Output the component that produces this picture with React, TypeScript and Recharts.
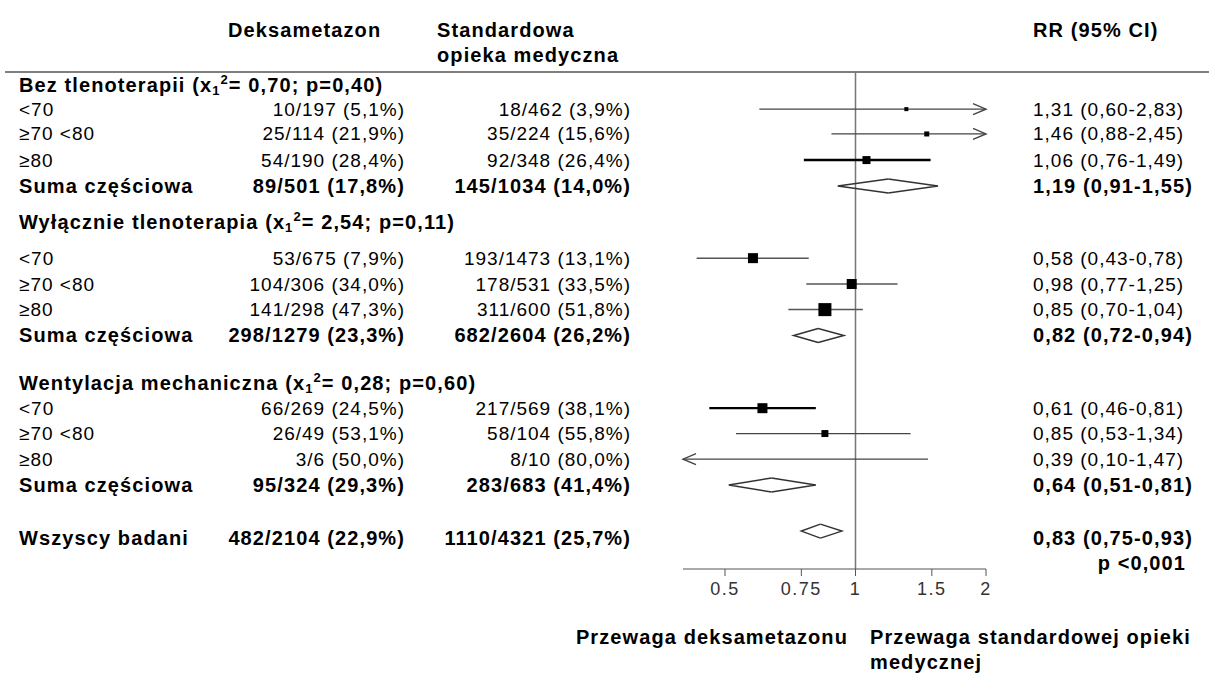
import React from 'react';
import { ComposedChart, XAxis, YAxis, Scatter, ReferenceLine, Customized } from 'recharts';

const FONT = '"Liberation Sans", Arial, Helvetica, sans-serif';

// ---------- data ----------
const rowKind = ['group', 'study', 'study', 'study', 'sub', 'group', 'study', 'study', 'study', 'sub', 'group', 'study', 'study', 'study', 'sub', 'total', 'note'];
const rowLabel = ['Bez tlenoterapii', '<70', '≥70 <80', '≥80', 'Suma częściowa', 'Wyłącznie tlenoterapia', '<70', '≥70 <80', '≥80', 'Suma częściowa', 'Wentylacja mechaniczna', '<70', '≥70 <80', '≥80', 'Suma częściowa', 'Wszyscy badani', 'p <0,001'];
// row positions (row units from top of the plot)
const rowPos = [0.51, 1.45, 2.42, 3.44, 4.45, 5.86, 7.27, 8.28, 9.28, 10.29, 12.15, 13.13, 14.12, 15.12, 16.13, 18.2, 19.18];
const markPos = [null, 1.45, 2.42, 3.44, 4.45, null, 7.27, 8.28, 9.28, 10.29, null, 13.13, 14.12, 15.12, 16.13, 17.93, null];
const chiSq = ['0,70', null, null, null, null, '2,54', null, null, null, null, '0,28', null, null, null, null, null, null];
const chiP = ['0,40', null, null, null, null, '0,11', null, null, null, null, '0,60', null, null, null, null, null, null];
const deksText = ['', '10/197 (5,1%)', '25/114 (21,9%)', '54/190 (28,4%)', '89/501 (17,8%)', '', '53/675 (7,9%)', '104/306 (34,0%)', '141/298 (47,3%)', '298/1279 (23,3%)', '', '66/269 (24,5%)', '26/49 (53,1%)', '3/6 (50,0%)', '95/324 (29,3%)', '482/2104 (22,9%)', ''];
const stdText = ['', '18/462 (3,9%)', '35/224 (15,6%)', '92/348 (26,4%)', '145/1034 (14,0%)', '', '193/1473 (13,1%)', '178/531 (33,5%)', '311/600 (51,8%)', '682/2604 (26,2%)', '', '217/569 (38,1%)', '58/104 (55,8%)', '8/10 (80,0%)', '283/683 (41,4%)', '1110/4321 (25,7%)', ''];
const rrVal = [null, 1.31, 1.46, 1.06, 1.19, null, 0.58, 0.98, 0.85, 0.82, null, 0.61, 0.85, 0.39, 0.64, 0.83, null];
const ciLow = [null, 0.60, 0.88, 0.76, 0.91, null, 0.43, 0.77, 0.70, 0.72, null, 0.46, 0.53, 0.10, 0.51, 0.75, null];
const ciHigh = [null, 2.83, 2.45, 1.49, 1.55, null, 0.78, 1.25, 1.04, 0.94, null, 0.81, 1.34, 1.47, 0.81, 0.93, null];
const boxWeight = [null, 1.8, 2.8, 7.1, null, null, 11.1, 11.1, 18.8, null, null, 11.1, 5.4, 0.1, null, null, null];

const xTicks = [0.5, 0.75, 1, 1.5, 2];
const XMIN = 0.4;
const XMAX = 2;
const YMAX = 19.41;

const headerDeks = 'Deksametazon';
const headerStd = ['Standardowa', 'opieka medyczna'];
const headerRR = 'RR (95% CI)';
const favourLeft = 'Przewaga deksametazonu';
const favourRight = ['Przewaga standardowej opieki', 'medycznej'];

// ---------- styles / layout ----------
const REG = 19;
const BOLD = 20;
const COL_LABEL = 19;
const COL_DEKS_END = 405;
const COL_STD_END = 631;
const COL_RR = 1033;
const COL_P_END = 1186;
const ciStyle: Record<number, { w: number; c: string }> = {
  3: { w: 2.5, c: '#000' },
  11: { w: 2.2, c: '#000' },
  6: { w: 1.5, c: '#555' },
  7: { w: 1.5, c: '#555' },
  8: { w: 1.5, c: '#555' },
};
const defaultCi = { w: 1.2, c: '#444' };

const fmt = (v: number) => v.toFixed(2).replace('.', ',');

const textBase = (bold: boolean) => ({
  fontFamily: FONT,
  fill: '#000',
  dominantBaseline: 'central' as const,
  fontSize: bold ? BOLD : REG,
  fontWeight: bold ? 700 : 400,
  letterSpacing: bold ? 1.1 : 1,
});

const TableRow = (props: any) => {
  const { cy, payload } = props;
  const i = payload.i as number;
  const kind = rowKind[i];
  const bold = kind !== 'study';
  const base = textBase(bold);
  if (kind === 'group') {
    return (
      <text x={COL_LABEL} y={cy} {...base}>
        {rowLabel[i]} (x<tspan fontSize={13} dy={5}>1</tspan>
        <tspan fontSize={13} dy={-11}>2</tspan>
        <tspan dy={6}>= {chiSq[i]}; p={chiP[i]})</tspan>
      </text>
    );
  }
  if (kind === 'note') {
    return (
      <text x={COL_P_END} y={cy} textAnchor="end" {...base}>
        {rowLabel[i]}
      </text>
    );
  }
  return (
    <g>
      <text x={COL_LABEL} y={cy} {...base}>{rowLabel[i]}</text>
      <text x={COL_DEKS_END} y={cy} textAnchor="end" {...base}>{deksText[i]}</text>
      <text x={COL_STD_END} y={cy} textAnchor="end" {...base}>{stdText[i]}</text>
      <text x={COL_RR} y={cy} {...base}>{`${fmt(rrVal[i] as number)} (${fmt(ciLow[i] as number)}-${fmt(ciHigh[i] as number)})`}</text>
    </g>
  );
};

const AxisTick = (props: any) => (
  <text
    x={props.x}
    y={props.y}
    dy="0.71em"
    textAnchor="middle"
    fontFamily={FONT}
    fontSize={18}
    letterSpacing={1.5}
    fill="#333"
  >
    {String(props.payload.value)}
  </text>
);

const makeCiShape = (i: number, leftArrow: boolean, rightArrow: boolean) => (p: any) => {
  const st = ciStyle[i] || defaultCi;
  const { x1, x2, y1 } = p;
  const aw = 13;
  const ah = 5.5;
  return (
    <g stroke={st.c} strokeWidth={st.w} fill="none">
      <line x1={x1} x2={x2} y1={y1} y2={y1} />
      {rightArrow && <path d={`M ${x2 - aw} ${y1 - ah} L ${x2} ${y1} L ${x2 - aw} ${y1 + ah}`} strokeWidth={1.4} stroke="#444" />}
      {leftArrow && <path d={`M ${x1 + aw} ${y1 - ah} L ${x1} ${y1} L ${x1 + aw} ${y1 + ah}`} strokeWidth={1.4} stroke="#444" />}
    </g>
  );
};

const DH = 7;
const leftHalf = (p: any) => (
  <path d={`M ${p.x2} ${p.y1 - DH} L ${p.x1} ${p.y1} L ${p.x2} ${p.y1 + DH}`} stroke="#333" strokeWidth={1.5} fill="none" strokeLinejoin="miter" />
);
const rightHalf = (p: any) => (
  <path d={`M ${p.x1} ${p.y1 - DH} L ${p.x2} ${p.y1} L ${p.x1} ${p.y1 + DH}`} stroke="#333" strokeWidth={1.5} fill="none" strokeLinejoin="miter" />
);

const Square = (p: any) => {
  const s = 3 * Math.sqrt(p.payload.w);
  return <rect x={p.cx - s / 2} y={p.cy - s / 2} width={s} height={s} fill="#000" />;
};

const StaticLayer = () => {
  const hb = textBase(true);
  return (
    <g>
      <line x1={5} x2={1209} y1={72} y2={72} stroke="#555" strokeWidth={1.5} />
      <text x={228} y={30} {...hb}>{headerDeks}</text>
      <text x={437} y={30} {...hb}>{headerStd[0]}</text>
      <text x={437} y={55} {...hb}>{headerStd[1]}</text>
      <text x={1033} y={30} {...hb}>{headerRR}</text>
      <text x={848} y={637} textAnchor="end" {...hb}>{favourLeft}</text>
      <text x={870} y={637} {...hb}>{favourRight[0]}</text>
      <text x={870} y={662} {...hb}>{favourRight[1]}</text>
    </g>
  );
};

const tableData = rowKind.map((_, i) => ({ x: 1, y: rowPos[i], i }));
const squareData = rowKind
  .map((k, i) => ({ k, i }))
  .filter(({ k, i }) => k === 'study' && (rrVal[i] as number) >= XMIN && (rrVal[i] as number) <= XMAX)
  .map(({ i }) => ({ x: rrVal[i] as number, y: markPos[i] as number, w: boxWeight[i] as number }));

export default function App() {
  const studyIdx = rowKind.map((k, i) => (k === 'study' ? i : -1)).filter((i) => i >= 0);
  const sumIdx = rowKind.map((k, i) => (k === 'sub' || k === 'total' ? i : -1)).filter((i) => i >= 0);
  return (
    <div style={{ position: 'absolute', left: 0, top: 0, width: 1214, height: 675, background: '#fff' }}>
      <ComposedChart width={1214} height={675} margin={{ top: 72, right: 228, bottom: 76, left: 683 }}>
        <XAxis
          dataKey="x"
          type="number"
          scale="log"
          domain={[XMIN, XMAX]}
          ticks={xTicks}
          interval={0}
          tick={AxisTick}
          tickLine={{ stroke: '#555' }}
          axisLine={{ stroke: '#555', strokeWidth: 1.2 }}
          tickSize={7}
          tickMargin={6}
          height={30}
        />
        <YAxis dataKey="y" type="number" domain={[0, YMAX]} reversed hide />
        <Customized component={StaticLayer} />
        <ReferenceLine x={1} stroke="#777" strokeWidth={1.5} />
        {studyIdx.map((i) => (
          <ReferenceLine
            key={`ci-${i}`}
            ifOverflow="visible"
            segment={[
              { x: Math.max(ciLow[i] as number, XMIN), y: markPos[i] as number },
              { x: Math.min(ciHigh[i] as number, XMAX), y: markPos[i] as number },
            ]}
            shape={makeCiShape(i, (ciLow[i] as number) < XMIN, (ciHigh[i] as number) > XMAX)}
          />
        ))}
        {sumIdx.map((i) => (
          <ReferenceLine
            key={`dl-${i}`}
            ifOverflow="visible"
            segment={[
              { x: ciLow[i] as number, y: markPos[i] as number },
              { x: rrVal[i] as number, y: markPos[i] as number },
            ]}
            shape={leftHalf}
          />
        ))}
        {sumIdx.map((i) => (
          <ReferenceLine
            key={`dr-${i}`}
            ifOverflow="visible"
            segment={[
              { x: rrVal[i] as number, y: markPos[i] as number },
              { x: ciHigh[i] as number, y: markPos[i] as number },
            ]}
            shape={rightHalf}
          />
        ))}
        <Scatter data={squareData} isAnimationActive={false} shape={Square} />
        <Scatter data={tableData} isAnimationActive={false} shape={TableRow} />
      </ComposedChart>
    </div>
  );
}
